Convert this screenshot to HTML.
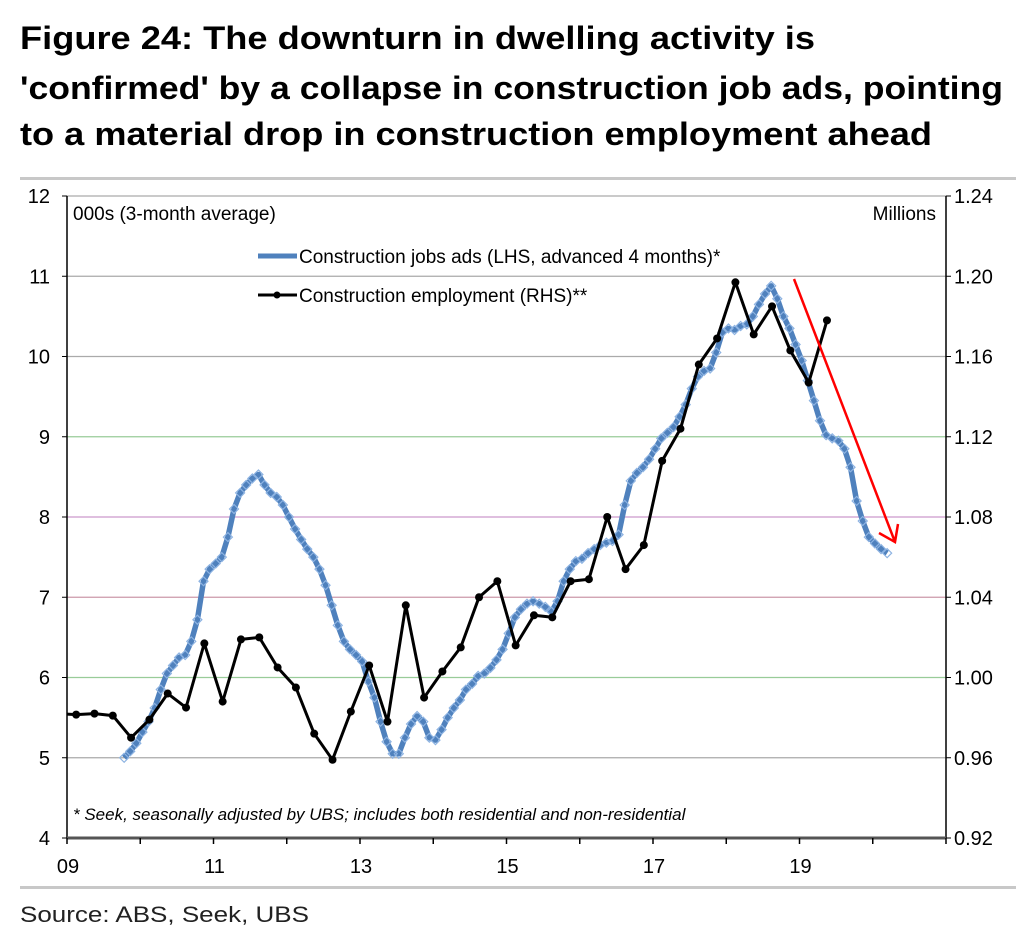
<!DOCTYPE html>
<html><head><meta charset="utf-8"><style>
body{margin:0;background:#fff;width:1036px;height:946px;overflow:hidden}
svg text{font-family:"Liberation Sans",Arial,sans-serif}
</style></head><body>
<svg id="c" width="1036" height="946" xmlns="http://www.w3.org/2000/svg">
<text x="20" y="49" font-size="32" font-weight="bold" textLength="795" lengthAdjust="spacingAndGlyphs">Figure 24: The downturn in dwelling activity is</text>
<text x="20" y="99" font-size="32" font-weight="bold" textLength="983" lengthAdjust="spacingAndGlyphs">'confirmed' by a collapse in construction job ads, pointing</text>
<text x="20" y="145" font-size="32" font-weight="bold" textLength="912" lengthAdjust="spacingAndGlyphs">to a material drop in construction employment ahead</text>
<rect x="20" y="177" width="996" height="3" fill="#c8c8c8"/>
<rect x="20" y="886" width="996" height="3" fill="#c8c8c8"/>
<text x="20" y="922" font-size="22" fill="#222" textLength="289" lengthAdjust="spacingAndGlyphs">Source:  ABS, Seek, UBS</text>
<g id="grid"></g><g id="axes"></g>
<defs><clipPath id="pc"><rect x="67" y="196" width="879" height="642"/></clipPath></defs>
<g id="series" clip-path="url(#pc)"></g>
<text x="73" y="220" font-size="19">000s (3-month average)</text>
<text x="936" y="220" font-size="19" text-anchor="end">Millions</text>
<g>
<line x1="258" y1="256" x2="297" y2="256" stroke="#4f81bd" stroke-width="5"/>
<text x="299" y="263" font-size="19">Construction jobs ads (LHS, advanced 4 months)*</text>
<line x1="258" y1="295" x2="297" y2="295" stroke="#000" stroke-width="3"/>
<circle cx="277" cy="295" r="3.5" fill="#000"/>
<text x="299" y="302" font-size="19">Construction employment (RHS)**</text>
</g>
<text x="73" y="820" font-size="17" font-style="italic">* Seek, seasonally adjusted by UBS; includes both residential and non-residential</text>
<line x1="794" y1="279" x2="895" y2="542" stroke="#f00" stroke-width="2.5"/>
<polyline points="879,533 895,542 898,524" fill="none" stroke="#f00" stroke-width="2.5"/>
</svg>
<script>
const lhsTicks=[4,5,6,7,8,9,10,11,12];
const rhsTicks=["0.92","0.96","1.00","1.04","1.08","1.12","1.16","1.20","1.24"];
const yearLabels=["09","11","13","15","17","19"];
const adsStart=2009.78;
const adsValues=[5.00,5.08,5.18,5.32,5.45,5.62,5.85,6.05,6.15,6.25,6.28,6.45,6.72,7.2,7.35,7.42,7.5,7.75,8.1,8.3,8.4,8.48,8.53,8.4,8.3,8.25,8.15,8.0,7.85,7.72,7.6,7.5,7.35,7.15,6.9,6.65,6.45,6.35,6.28,6.2,5.95,5.75,5.45,5.2,5.05,5.05,5.25,5.42,5.52,5.45,5.25,5.22,5.35,5.5,5.62,5.72,5.85,5.92,6.02,6.05,6.12,6.22,6.35,6.55,6.75,6.85,6.92,6.95,6.92,6.88,6.82,6.95,7.2,7.35,7.45,7.48,7.55,7.6,7.65,7.68,7.7,7.78,8.15,8.45,8.55,8.62,8.72,8.85,8.98,9.05,9.12,9.25,9.4,9.6,9.75,9.82,9.85,10.05,10.3,10.35,10.33,10.38,10.4,10.5,10.65,10.78,10.88,10.72,10.5,10.35,10.15,9.95,9.7,9.45,9.2,9.02,8.98,8.95,8.85,8.62,8.2,7.95,7.75,7.67,7.6,7.55];
const empStart=2008.875;
const empValues=[0.982,0.9815,0.982,0.981,0.970,0.979,0.992,0.985,1.017,0.988,1.019,1.020,1.005,0.995,0.972,0.959,0.983,1.006,0.978,1.036,0.990,1.003,1.015,1.040,1.048,1.016,1.031,1.030,1.048,1.049,1.080,1.054,1.066,1.108,1.124,1.156,1.169,1.197,1.171,1.185,1.163,1.147,1.178];
const NS="http://www.w3.org/2000/svg";
const X0=67,X1=946,Y0=838,Y1=196;
const xs=t=>X0+(t-2009)*(X1-X0)/12;
const yl=v=>Y0-(v-4)*(Y0-Y1)/8;
const yr=v=>Y0-(v-0.92)*(Y0-Y1)/0.32;
function mk(tag,at,parent){const e=document.createElementNS(NS,tag);for(const k in at)e.setAttribute(k,at[k]);parent.appendChild(e);return e;}
const grid=document.getElementById('grid'),axes=document.getElementById('axes'),ser=document.getElementById('series');
const gcols=["#999","#aaa","#9c9","#c9a","#c9c","#9c9","#aaa","#aaa","#aaa"];
lhsTicks.forEach((v,i)=>{
 const y=yl(v);
 if(i>0&&i<8){const g=mk('line',{x1:X0,x2:X1,y1:y,y2:y,stroke:gcols[i],'stroke-width':1.2},grid);
 
 }
 const t=mk('text',{x:50,y:y+7,'font-size':20,'text-anchor':'end'},axes);t.textContent=v;
 
 
 const r=mk('text',{x:954,y:y+7,'font-size':20},axes);r.textContent=rhsTicks[i];
 
 
 mk('line',{x1:X0-5,x2:X0,y1:y,y2:y,stroke:'#000'},axes);
 mk('line',{x1:X1,x2:X1+5,y1:y,y2:y,stroke:'#000'},axes);
});
mk('line',{x1:X0,x2:X1,y1:Y1,y2:Y1,stroke:'#aaa','stroke-width':1.2},grid);
mk('line',{x1:X0,x2:X0,y1:Y1,y2:Y0,stroke:'#000','stroke-width':1.5},axes);
mk('line',{x1:X1,x2:X1,y1:Y1,y2:Y0,stroke:'#000','stroke-width':1.5},axes);
const xa=mk('line',{x1:X0,x2:X1,y1:Y0,y2:Y0,stroke:'#555','stroke-width':3},axes);


for(let yr_=2009;yr_<=2021;yr_++)mk('line',{x1:xs(yr_),x2:xs(yr_),y1:Y0,y2:Y0+6,stroke:'#000','stroke-width':1.5},axes);
yearLabels.forEach((l,i)=>{const t=mk('text',{x:xs(2009+2*i)+1,y:873,'font-size':20,'text-anchor':'middle'},axes);t.textContent=l;
 
 });
const ap=adsValues.map((v,i)=>xs(adsStart+i/12).toFixed(1)+','+yl(v).toFixed(1)).join(' ');
const al=mk('polyline',{points:ap,fill:'none',stroke:'#4f81bd','stroke-width':5.5,'stroke-linejoin':'round'},ser);


adsValues.forEach((v,i)=>{const x=xs(adsStart+i/12),y=yl(v);
 const d=mk('polygon',{points:`${x},${y-4.5} ${x+4.5},${y} ${x},${y+4.5} ${x-4.5},${y}`,fill:'none',stroke:'#8db3e2','stroke-width':1.2},ser);
 
 });
const ep=empValues.map((v,i)=>xs(empStart+i/4).toFixed(1)+','+yr(v).toFixed(1)).join(' ');
const el=mk('polyline',{points:ep,fill:'none',stroke:'#000','stroke-width':3,'stroke-linejoin':'round'},ser);


empValues.forEach((v,i)=>{const c=mk('circle',{cx:xs(empStart+i/4),cy:yr(v),r:4,fill:'#000'},ser);
 
 });
</script>
</body></html>
